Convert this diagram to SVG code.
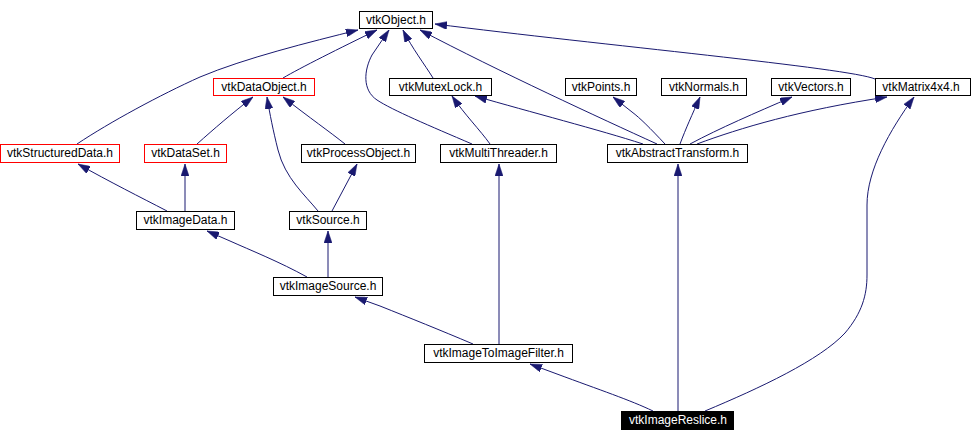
<svg xmlns="http://www.w3.org/2000/svg" width="973" height="442" viewBox="0 0 973 442">
<style>
.n rect{fill:#fff;stroke:#000;stroke-width:1}
.n.r rect{stroke:#f00}
.n.f rect{fill:#000;stroke:#000}
.n text{font-family:"Liberation Sans",Arial,sans-serif;font-size:12px;text-anchor:middle;fill:#000}
.n.f text{fill:#fff}
#edges path{fill:none;stroke:#191970;stroke-width:1;marker-end:url(#ah)}
</style>
<defs>
<marker id="ah" viewBox="0 0 12 8" refX="12" refY="4" markerWidth="12" markerHeight="8" markerUnits="userSpaceOnUse" orient="auto">
<path d="M0,0 L12,4 L0,8 z" fill="#191970" stroke="#191970" stroke-width="0.5"/>
</marker>
</defs>
<rect width="973" height="442" fill="#fff"/>
<g id="edges">
<path d="M77,144 C110,122 160,95 200,77 C245,58 310,42 358,30"/>
<path d="M283,78 C300,68 340,48 377,30"/>
<path d="M472,144 C430,126 392,110 377,100 C362,90 364,70 372,55 L389,30"/>
<path d="M433,78 C425,65 412,48 403,30"/>
<path d="M657,144 C600,118 500,72 420,30"/>
<path d="M875,79 C850,68 600,45 435,24"/>
<path d="M490,144 C480,130 465,115 452,96"/>
<path d="M643,144 C600,130 530,112 475,96"/>
<path d="M665,144 C650,128 640,118 632,112 L613,97"/>
<path d="M680,144 C686,128 692,115 700,97"/>
<path d="M690,144 C720,128 755,113 792,97"/>
<path d="M697,144 C740,128 800,110 887,97"/>
<path d="M678,411 L678,164"/>
<path d="M499,344 L499,164"/>
<path d="M653,411 C630,400 600,390 557,374 L530,364"/>
<path d="M705,411 C760,388 820,360 845,333 C862,313 867,295 867,275 L867,205 C867,170 890,130 914,97"/>
<path d="M473,344 C440,330 410,318 380,306 L355,297"/>
<path d="M307,277 C280,262 250,250 230,241 L207,231"/>
<path d="M328,277 L328,231"/>
<path d="M318,211 C305,195 285,178 278,150 C273,130 270,115 267,97"/>
<path d="M332,211 L357,164"/>
<path d="M345,144 C330,132 310,118 283,97"/>
<path d="M197,144 C215,128 230,115 253,97"/>
<path d="M167,211 C140,197 110,182 78,164"/>
<path d="M185,211 L185,164"/>
</g>
<g id="vtkObject" class="n"><rect x="359.5" y="11.5" width="73" height="17"/><text x="396" y="24">vtkObject.h</text></g>
<g id="vtkDataObject" class="n r"><rect x="213.5" y="78.5" width="101" height="17"/><text x="264" y="91">vtkDataObject.h</text></g>
<g id="vtkMutexLock" class="n"><rect x="389.5" y="78.5" width="102" height="17"/><text x="440.5" y="91">vtkMutexLock.h</text></g>
<g id="vtkPoints" class="n"><rect x="565.5" y="78.5" width="71" height="17"/><text x="601" y="91">vtkPoints.h</text></g>
<g id="vtkNormals" class="n"><rect x="661.5" y="78.5" width="85" height="17"/><text x="704" y="91">vtkNormals.h</text></g>
<g id="vtkVectors" class="n"><rect x="771.5" y="78.5" width="79" height="17"/><text x="811" y="91">vtkVectors.h</text></g>
<g id="vtkMatrix4x4" class="n"><rect x="875.5" y="78.5" width="95" height="17"/><text x="921" y="91">vtkMatrix4x4.h</text></g>
<g id="vtkStructuredData" class="n r"><rect x="0.5" y="144.5" width="119" height="18"/><text x="60" y="157">vtkStructuredData.h</text></g>
<g id="vtkDataSet" class="n r"><rect x="144.5" y="144.5" width="82" height="18"/><text x="185.5" y="157">vtkDataSet.h</text></g>
<g id="vtkProcessObject" class="n"><rect x="301.5" y="144.5" width="114" height="18"/><text x="358.5" y="157">vtkProcessObject.h</text></g>
<g id="vtkMultiThreader" class="n"><rect x="440.5" y="144.5" width="116" height="18"/><text x="498.5" y="157">vtkMultiThreader.h</text></g>
<g id="vtkAbstractTransform" class="n"><rect x="607.5" y="144.5" width="140" height="18"/><text x="677.5" y="157">vtkAbstractTransform.h</text></g>
<g id="vtkImageData" class="n"><rect x="136.5" y="211.5" width="98" height="18"/><text x="185.5" y="224">vtkImageData.h</text></g>
<g id="vtkSource" class="n"><rect x="289.5" y="211.5" width="77" height="18"/><text x="328" y="224">vtkSource.h</text></g>
<g id="vtkImageSource" class="n"><rect x="273.5" y="277.5" width="109" height="18"/><text x="328" y="290">vtkImageSource.h</text></g>
<g id="vtkImageToImageFilter" class="n"><rect x="424.5" y="344.5" width="148" height="18"/><text x="498.5" y="357">vtkImageToImageFilter.h</text></g>
<g id="vtkImageReslice" class="n f"><rect x="621.5" y="411.5" width="112" height="18"/><text x="678" y="424">vtkImageReslice.h</text></g>
</svg>
